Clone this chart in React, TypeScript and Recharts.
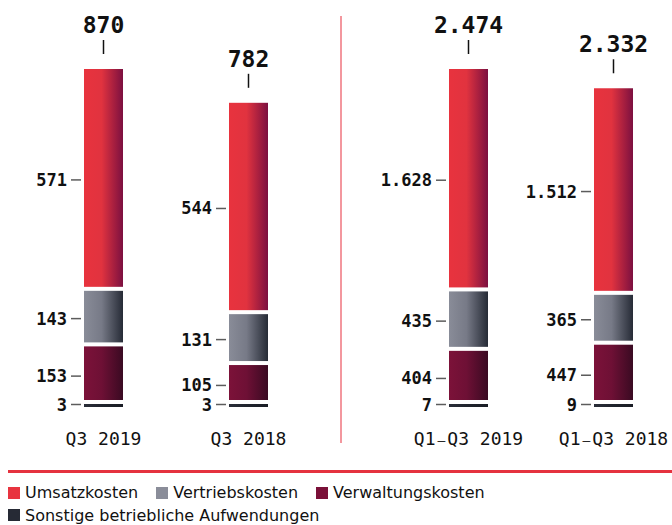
import React from 'react';
import { BarChart, Bar, XAxis, YAxis, LabelList } from 'recharts';

// Quartal (Q3) in Mio. EUR
const Q3_LABELS = ['Q3 2019', 'Q3 2018'];
const Q3_UMSATZ = [571, 544];
const Q3_VERTRIEB = [143, 131];
const Q3_VERWALTUNG = [153, 105];
const Q3_SONSTIGE = [3, 3];
const Q3_TOTAL = [870, 782];

// Neun Monate (Q1-Q3)
const YTD_LABELS = ['Q1–Q3 2019', 'Q1–Q3 2018'];
const YTD_UMSATZ = [1628, 1512];
const YTD_VERTRIEB = [435, 365];
const YTD_VERWALTUNG = [404, 447];
const YTD_SONSTIGE = [7, 9];
const YTD_TOTAL = [2474, 2332];

const SERIES = [
  { key: 'sonstige', name: 'Sonstige betriebliche Aufwendungen', color: '#262a35', stops: ['#2a2e39', '#20242d', '#1a1d25'] },
  { key: 'verwaltung', name: 'Verwaltungskosten', color: '#7a1038', stops: ['#7c1239', '#6e1035', '#3a0a22'] },
  { key: 'vertrieb', name: 'Vertriebskosten', color: '#8a8d99', stops: ['#898c98', '#777a87', '#262b36'] },
  { key: 'umsatz', name: 'Umsatzkosten', color: '#e8343f', stops: ['#e8333e', '#e1333f', '#7c1040'] },
];
const LEGEND_ORDER = ['umsatz', 'vertrieb', 'verwaltung', 'sonstige'];

const buildRows = (
  labels: string[], umsatz: number[], vertrieb: number[], verwaltung: number[], sonstige: number[], totals: number[]
) =>
  labels.map((name, i) => ({
    name,
    umsatz: umsatz[i],
    vertrieb: vertrieb[i],
    verwaltung: verwaltung[i],
    sonstige: sonstige[i],
    total: totals[i],
  }));

const Q3_DATA = buildRows(Q3_LABELS, Q3_UMSATZ, Q3_VERTRIEB, Q3_VERWALTUNG, Q3_SONSTIGE, Q3_TOTAL);
const YTD_DATA = buildRows(YTD_LABELS, YTD_UMSATZ, YTD_VERTRIEB, YTD_VERWALTUNG, YTD_SONSTIGE, YTD_TOTAL);

const CHART_H = 460;
const MARGIN_TOP = 69;
const MARGIN_BOTTOM = 23;
const AXIS_H = 30;
const PLOT_BOTTOM = CHART_H - MARGIN_BOTTOM - AXIS_H;
const GAP = 4;
const MIN_SMALL = 3;

const MONO = '"DejaVu Sans Mono", monospace';

const fmt = (v: number) => String(v).replace(/\B(?=(\d{3})+(?!\d))/g, '.');

const box = (p: any) => {
  const vb = p.viewBox || {};
  return {
    x: Number(p.x ?? vb.x),
    y: Number(p.y ?? vb.y),
    width: Number(p.width ?? vb.width),
    height: Number(p.height ?? vb.height),
  };
};

const Segment = (props: any) => {
  const { x, y, width, height, fill, small } = props;
  if (small) {
    return <rect x={x} y={y + height - MIN_SMALL} width={width} height={MIN_SMALL} fill={fill} />;
  }
  const bottom = Math.min(y + height, PLOT_BOTTOM - MIN_SMALL) - GAP;
  const h = bottom - y;
  if (h <= 0) return null;
  return <rect x={x} y={y} width={width} height={h} fill={fill} />;
};

const SegmentLabel = (props: any) => {
  const { x, y, height } = box(props);
  const cy = props.small ? y + height - 2.5 : y + height / 2;
  return (
    <g>
      <text
        x={x - 17}
        y={cy}
        textAnchor="end"
        dominantBaseline="central"
        fontFamily={MONO}
        fontWeight={700}
        fontSize={17}
        fill="#111"
      >
        {fmt(Number(props.value))}
      </text>
      <line x1={x - 13} x2={x - 3} y1={cy} y2={cy} stroke="#5c5c5c" strokeWidth={1.5} />
    </g>
  );
};

const TotalLabel = (props: any) => {
  const { x, y, width } = box(props);
  const cx = x + width / 2;
  return (
    <g>
      <text x={cx} y={y - 36} textAnchor="middle" fontFamily={MONO} fontWeight={700} fontSize={23} fill="#111">
        {fmt(Number(props.value))}
      </text>
      <line x1={cx} x2={cx} y1={y - 29} y2={y - 15} stroke="#111" strokeWidth={1.5} />
    </g>
  );
};

const CategoryTick = (props: any) => {
  const { x, y, payload } = props;
  const parts = String(payload.value).split('–');
  return (
    <text x={x} y={y} dy={38} textAnchor="middle" fontFamily={MONO} fontSize={18} fill="#111">
      {parts.length === 1 ? (
        payload.value
      ) : (
        <>
          <tspan>{parts[0]}</tspan>
          <tspan dx={2} fontSize={13}>–</tspan>
          <tspan dx={2}>{parts[1]}</tspan>
        </>
      )}
    </text>
  );
};

const CostChart = ({ data, width, marginLeft, marginRight, prefix }: any) => (
  <BarChart
    width={width}
    height={CHART_H}
    data={data}
    margin={{ top: MARGIN_TOP, right: marginRight, left: marginLeft, bottom: MARGIN_BOTTOM }}
  >
    <defs>
      {SERIES.map((s) => (
        <linearGradient key={s.key} id={`${prefix}-${s.key}`} x1="0" y1="0" x2="1" y2="0">
          <stop offset="0%" stopColor={s.stops[0]} />
          <stop offset="45%" stopColor={s.stops[1]} />
          <stop offset="100%" stopColor={s.stops[2]} />
        </linearGradient>
      ))}
    </defs>
    <XAxis
      dataKey="name"
      height={AXIS_H}
      axisLine={false}
      tickLine={false}
      tickSize={0}
      tickMargin={0}
      interval={0}
      tick={<CategoryTick />}
    />
    <YAxis hide domain={[0, 'dataMax']} />
    {SERIES.map((s) => {
      const small = s.key === 'sonstige';
      return (
        <Bar
          key={s.key}
          dataKey={s.key}
          name={s.name}
          stackId="kosten"
          barSize={39}
          fill={`url(#${prefix}-${s.key})`}
          isAnimationActive={false}
          shape={(p: any) => <Segment {...p} small={small} />}
        >
          <LabelList dataKey={s.key} content={(p: any) => <SegmentLabel {...p} small={small} />} />
          {s.key === 'umsatz' && <LabelList dataKey="total" content={(p: any) => <TotalLabel {...p} />} />}
        </Bar>
      );
    })}
  </BarChart>
);

const LegendItem = ({ color, name, last }: any) => (
  <span style={{ display: 'inline-flex', alignItems: 'center', marginRight: last ? 0 : 18 }}>
    <span style={{ display: 'inline-block', width: 12, height: 12, background: color, marginRight: 5 }} />
    <span>{name}</span>
  </span>
);

export default function App() {
  const legend = LEGEND_ORDER.map((k) => SERIES.find((s) => s.key === k)!);
  return (
    <div
      style={{
        position: 'absolute',
        left: 0,
        top: 0,
        width: 672,
        height: 525,
        overflow: 'hidden',
        background: '#fff',
      }}
    >
      <div style={{ position: 'absolute', left: 0, top: 0 }}>
        <CostChart data={Q3_DATA} width={340} marginLeft={31} marginRight={19} prefix="q3" />
      </div>
      <div style={{ position: 'absolute', left: 340, top: 0 }}>
        <CostChart data={YTD_DATA} width={350} marginLeft={56} marginRight={4} prefix="ytd" />
      </div>
      <div style={{ position: 'absolute', left: 340, top: 16, width: 2, height: 427, background: '#f3979e' }} />
      <div style={{ position: 'absolute', left: 8, top: 470, width: 664, height: 2.5, background: '#e5323f' }} />
      <div
        style={{
          position: 'absolute',
          left: 8,
          top: 482,
          fontFamily: '"DejaVu Sans", sans-serif',
          fontSize: 16,
          lineHeight: '21px',
          color: '#111',
        }}
      >
        <div style={{ whiteSpace: 'nowrap' }}>
          {legend.slice(0, 3).map((s, i) => (
            <LegendItem key={s.key} color={s.color} name={s.name} last={i === 2} />
          ))}
        </div>
        <div style={{ whiteSpace: 'nowrap', marginTop: 1 }}>
          <LegendItem color={legend[3].color} name={legend[3].name} last />
        </div>
      </div>
    </div>
  );
}
